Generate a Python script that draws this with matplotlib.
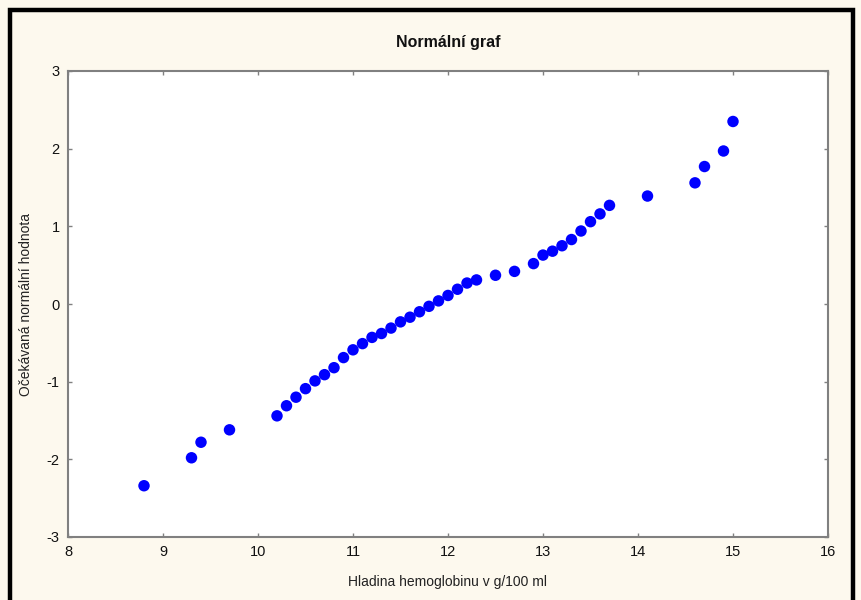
import matplotlib
matplotlib.use("Agg")
import matplotlib.pyplot as plt
from matplotlib.patches import Rectangle

hemoglobin = [8.8, 9.3, 9.4, 9.7, 10.2, 10.3, 10.4, 10.5, 10.6, 10.7, 10.8, 10.9,
              11.0, 11.1, 11.2, 11.3, 11.4, 11.5, 11.6, 11.7, 11.8, 11.9, 12.0,
              12.1, 12.2, 12.3, 12.5, 12.7, 12.9, 13.0, 13.1, 13.2, 13.3, 13.4,
              13.5, 13.6, 13.7, 14.1, 14.6, 14.7, 14.9, 15.0]
expected_normal = [-2.34, -1.98, -1.78, -1.62, -1.44, -1.31, -1.20, -1.09, -0.99,
                   -0.91, -0.82, -0.69, -0.59, -0.51, -0.43, -0.38, -0.31, -0.23,
                   -0.17, -0.10, -0.03, 0.04, 0.11, 0.19, 0.27, 0.31, 0.37, 0.42,
                   0.52, 0.63, 0.68, 0.75, 0.83, 0.94, 1.06, 1.16, 1.27, 1.39,
                   1.56, 1.77, 1.97, 2.35]
x_ticks = [8, 9, 10, 11, 12, 13, 14, 15, 16]
y_ticks = [-3, -2, -1, 0, 1, 2, 3]

fam = ["Liberation Sans Narrow", "Liberation Sans", "DejaVu Sans"]
plt.rcParams['font.family'] = fam
plt.rcParams['axes.unicode_minus'] = False

fig = plt.figure(figsize=(8.62, 6.0), dpi=100)
fig.patch.set_facecolor("#FDF9EE")

# black frame
fig.add_artist(Rectangle((10.5/862, -0.05), (853-10.5)/862, 1 - 10/600 + 0.05,
                         transform=fig.transFigure, fill=False,
                         edgecolor="black", linewidth=3.2, zorder=0))

ax = fig.add_axes([68/862, 1 - 537/600, (828-68)/862, (537-71)/600])
ax.set_facecolor("white")
ax.scatter(hemoglobin, expected_normal, s=68, color="#0000FF", edgecolors="none", zorder=3)
ax.set_xlim(8, 16)
ax.set_ylim(-3, 3)
ax.set_xticks(x_ticks)
ax.set_yticks(y_ticks)
ax.tick_params(direction="in", top=True, right=True, length=3, width=1,
               color="#808080", labelsize=10.5, labelcolor="#111111", pad=6)
for s in ax.spines.values():
    s.set_color("#808080")
    s.set_linewidth(1.5)

ax.set_title("Normální graf", fontsize=11.5, fontweight="bold", pad=17, color="#111111")
ax.set_xlabel("Hladina hemoglobinu v g/100 ml", fontsize=10, labelpad=11, color="#222222")
ax.set_ylabel("Očekávaná normální hodnota", fontsize=10, labelpad=10, color="#222222")

fig.savefig("out.png", dpi=100, facecolor=fig.get_facecolor())
